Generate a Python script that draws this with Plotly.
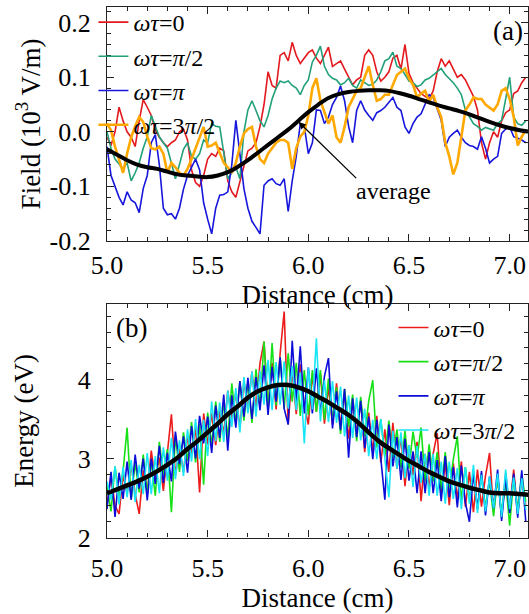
import numpy as np
import plotly.graph_objects as go

# ---------------- data ----------------
STEP = 0.02          # sampling step of the field / energy profiles (cm)
X0 = 5.0             # first sample position (cm)

# (a) electric field, 10^3 V/m, for four phases
field_wt0 = [-0.01, -0.025, 0.00, 0.045, 0.02, 0.00, -0.01, -0.027, 0.02, 0.059,
             0.045, 0.03, 0.003, -0.01, -0.02, -0.027, -0.02, -0.015, 0.00, 0.005,
             -0.015, -0.07, -0.093, -0.10, -0.08, -0.05, -0.04, -0.045, -0.03, -0.035,
             -0.09, -0.11, -0.12, -0.09, -0.06, -0.035, -0.03, -0.02, 0.01, 0.05,
             0.11, 0.085, 0.08, 0.14, 0.145, 0.13, 0.164, 0.14, 0.125, 0.134,
             0.145, 0.15, 0.135, 0.125, 0.14, 0.155, 0.12, 0.125, 0.13, 0.115,
             0.10, 0.086, 0.095, 0.10, 0.14, 0.15, 0.14, 0.11, 0.093, 0.10,
             0.11, 0.135, 0.14, 0.115, 0.16, 0.107, 0.09, 0.08, 0.07, 0.065,
             0.06, 0.075, 0.11, 0.134, 0.12, 0.13, 0.115, 0.10, 0.105, 0.095,
             0.08, 0.065, 0.04, -0.02, -0.05, -0.02, 0.00, -0.01, 0.02, 0.035,
             0.04, 0.07, 0.075, 0.09, 0.10]
field_wt_half_pi = [0.00, -0.03, -0.05, -0.06, -0.068, -0.057, -0.09, -0.075, -0.057, -0.03,
                    -0.009, 0.03, 0.01, -0.009, -0.02, -0.03, -0.057, -0.086, -0.06, -0.032,
                    -0.02, -0.045, -0.05, -0.04, -0.015, -0.02, 0.015, 0.01, 0.009, -0.04,
                    -0.086, -0.075, -0.065, -0.086, 0.00, 0.04, 0.057, 0.039, 0.02, 0.009,
                    0.03, 0.06, 0.08, 0.093, 0.09, 0.093, 0.085, 0.08, 0.068, 0.085,
                    0.095, 0.128, 0.14, 0.157, 0.12, 0.105, 0.098, 0.095, 0.086, 0.09,
                    0.098, 0.085, 0.08, 0.095, 0.09, 0.085, 0.087, 0.095, 0.11, 0.13,
                    0.134, 0.146, 0.12, 0.116, 0.105, 0.093, 0.09, 0.083, 0.086, 0.095,
                    0.098, 0.104, 0.11, 0.116, 0.105, 0.098, 0.09, 0.08, 0.068, 0.04,
                    0.027, 0.015, 0.01, 0.003, 0.008, 0.005, 0.003, 0.015, 0.021, 0.06,
                    0.10, 0.027, 0.015, 0.012, 0.02]
field_wt_pi = [-0.027, -0.08, -0.10, -0.12, -0.134, -0.11, -0.125, -0.13, -0.148, -0.104,
               -0.08, -0.02, -0.005, -0.06, -0.14, -0.152, -0.15, -0.16, -0.14, -0.105,
               -0.08, -0.065, -0.05, -0.07, -0.13, -0.16, -0.187, -0.14, -0.116, -0.115,
               -0.11, -0.06, 0.021, -0.04, -0.104, -0.14, -0.164, -0.175, -0.187, -0.098,
               -0.09, -0.086, -0.095, -0.098, -0.086, -0.146, -0.09, -0.045, 0.015, 0.01,
               -0.04, -0.02, 0.04, 0.039, 0.015, 0.027, 0.05, 0.063, 0.084, 0.057,
               0.01, -0.02, 0.039, 0.057, 0.04, 0.03, 0.021, 0.035, 0.039, 0.045,
               0.055, 0.063, 0.045, 0.039, 0.009, -0.003, 0.015, 0.027, 0.033, 0.05,
               0.068, 0.063, 0.04, 0.021, -0.027, -0.01, -0.003, 0.003, -0.01, -0.02,
               -0.025, -0.027, -0.032, -0.009, -0.03, -0.057, -0.05, -0.045, -0.003, 0.005,
               0.009, -0.009, -0.012, -0.015, -0.02]
field_wt_3half_pi = [0.015, 0.003, -0.027, -0.05, -0.075, -0.04, -0.01, 0.01, 0.027, 0.018,
                     -0.009, -0.03, -0.032, -0.027, -0.04, -0.075, -0.057, -0.065, -0.075, -0.08,
                     -0.068, -0.05, -0.03, -0.009, 0.009, -0.027, -0.025, -0.02, -0.04, -0.057,
                     -0.065, -0.075, -0.057, -0.027, -0.003, 0.005, 0.009, -0.027, -0.05, -0.057,
                     -0.04, -0.03, -0.02, -0.015, -0.015, -0.02, -0.068, -0.03, -0.009, 0.00,
                     0.03, 0.08, 0.098, 0.057, 0.035, 0.015, 0.03, -0.01, -0.02, 0.009,
                     0.045, 0.06, 0.075, 0.08, 0.10, 0.12, 0.086, 0.057, 0.06, 0.068,
                     0.068, 0.085, 0.104, 0.11, 0.116, 0.098, 0.086, 0.063, 0.07, 0.075,
                     0.055, 0.068, 0.045, 0.027, -0.02, -0.045, -0.078, -0.057, -0.009, 0.039,
                     0.05, 0.063, 0.06, 0.06, 0.05, 0.045, 0.039, 0.05, 0.075, 0.08,
                     0.06, 0.027, -0.025, -0.009, 0.003]

# phase-averaged field, sampled every 0.05 cm from 5.00 to 7.10
field_average = [-0.032, -0.042, -0.052, -0.060, -0.065, -0.068, -0.073, -0.078, -0.080, -0.082,
                 -0.083, -0.080, -0.074, -0.064, -0.052, -0.038, -0.024, -0.010, 0.004, 0.020,
                 0.036, 0.050, 0.062, 0.069, 0.073, 0.075, 0.076, 0.076, 0.075, 0.071,
                 0.066, 0.060, 0.054, 0.048, 0.043, 0.038, 0.032, 0.025, 0.018, 0.012,
                 0.007, 0.003, 0.000]

# (b) electron energy, eV, for four phases
energy_wt0 = [2.41, 2.78, 2.40, 2.30, 2.79, 2.56, 2.93, 2.55, 2.30, 2.85,
              2.57, 3.10, 2.73, 3.01, 2.59, 3.12, 3.56, 2.79, 3.13, 2.83,
              3.27, 3.06, 3.40, 2.57, 3.57, 3.18, 3.57, 3.17, 3.61, 3.31,
              3.86, 3.50, 3.84, 3.38, 3.98, 3.62, 4.10, 3.63, 4.21, 4.48,
              3.65, 4.21, 3.62, 4.33, 4.86, 3.43, 4.12, 3.56, 4.19, 3.67,
              3.43, 4.07, 3.59, 4.07, 3.44, 3.91, 3.43, 3.95, 3.41, 3.83,
              3.25, 3.71, 3.32, 3.73, 3.08, 3.58, 3.09, 3.54, 2.95, 3.37,
              2.83, 3.45, 2.87, 3.28, 2.65, 3.17, 2.79, 3.21, 2.46, 3.06,
              2.63, 3.06, 3.32, 2.56, 2.93, 2.41, 2.94, 2.48, 2.96, 2.39,
              2.83, 2.32, 2.86, 2.39, 2.78, 3.07, 2.32, 2.76, 2.26, 2.81,
              2.36, 2.86, 2.30, 2.75, 2.40]
energy_wt_half_pi = [2.66, 2.33, 2.90, 2.52, 2.84, 3.39, 2.48, 2.95, 2.57, 3.05,
                     2.57, 2.95, 2.53, 3.21, 2.79, 3.12, 2.32, 3.29, 2.83, 3.33,
                     2.97, 3.46, 2.95, 3.44, 2.67, 3.58, 3.17, 3.72, 3.21, 3.71,
                     3.26, 3.95, 3.44, 3.98, 3.48, 3.97, 3.45, 4.13, 3.66, 4.48,
                     3.60, 4.46, 3.67, 4.28, 3.63, 4.33, 3.72, 4.21, 3.54, 4.12,
                     3.55, 4.12, 3.59, 4.12, 3.49, 4.01, 3.48, 3.90, 3.31, 3.88,
                     3.40, 3.81, 3.22, 3.78, 3.28, 3.73, 3.99, 3.14, 3.50, 3.02,
                     3.48, 3.00, 3.37, 2.88, 3.35, 2.87, 3.34, 3.01, 3.39, 2.71,
                     3.18, 2.71, 3.08, 2.61, 3.08, 2.61, 2.99, 3.28, 2.46, 2.89,
                     2.48, 2.82, 2.36, 2.79, 2.38, 2.72, 2.27, 2.76, 2.31, 2.71,
                     2.15, 2.76, 2.35, 2.80, 2.45]
energy_wt_pi = [2.36, 2.83, 2.26, 2.82, 2.49, 2.96, 2.48, 3.05, 2.62, 3.00,
                2.47, 3.00, 2.68, 3.16, 2.69, 3.07, 2.71, 3.34, 2.93, 3.28,
                2.82, 3.41, 3.00, 3.54, 3.19, 3.53, 3.07, 3.67, 3.26, 3.81,
                3.10, 3.80, 3.39, 3.98, 3.53, 4.02, 3.50, 4.03, 3.61, 4.18,
                3.55, 4.16, 3.72, 4.28, 3.63, 3.43, 4.49, 3.71, 4.42, 3.57,
                4.15, 3.57, 4.14, 3.57, 4.04, 4.27, 3.38, 3.85, 3.36, 3.88,
                3.01, 3.76, 3.27, 3.73, 3.13, 3.53, 2.99, 3.49, 3.00, 2.48,
                3.43, 2.90, 3.27, 2.73, 3.25, 2.72, 3.09, 2.56, 3.09, 2.56,
                3.08, 2.56, 2.98, 2.46, 3.03, 2.51, 2.89, 2.38, 2.91, 2.44,
                2.20, 2.82, 2.36, 2.84, 2.28, 2.77, 2.37, 2.86, 2.21, 2.76,
                2.31, 2.81, 2.25, 2.85, 2.20]
energy_wt_3half_pi = [2.71, 2.48, 2.90, 2.42, 2.89, 2.51, 2.98, 2.45, 2.92, 2.55,
                      3.07, 2.55, 3.03, 2.56, 3.14, 2.72, 3.26, 2.74, 3.23, 2.78,
                      3.37, 2.96, 3.50, 2.99, 3.49, 3.03, 3.72, 3.22, 3.71, 3.21,
                      3.86, 3.40, 3.89, 3.33, 4.03, 3.57, 4.10, 3.53, 4.11, 3.68,
                      4.25, 3.61, 4.22, 3.68, 4.23, 3.63, 4.17, 3.61, 4.09, 3.19,
                      4.15, 3.62, 4.52, 3.47, 3.99, 3.46, 3.98, 3.45, 3.91, 3.28,
                      3.80, 3.26, 3.77, 3.23, 3.63, 3.03, 3.49, 2.99, 3.50, 2.97,
                      2.51, 3.35, 2.87, 3.33, 2.75, 3.17, 2.64, 3.16, 2.69, 3.06,
                      2.53, 3.06, 2.53, 2.96, 2.43, 2.96, 2.49, 2.88, 2.36, 2.89,
                      2.43, 2.92, 2.31, 2.79, 2.33, 2.77, 2.37, 2.81, 2.26, 2.86,
                      2.36, 2.76, 2.30, 2.75, 2.35]

# phase-averaged energy, sampled every 0.05 cm from 5.00 to 7.10
energy_average = [2.56, 2.61, 2.66, 2.71, 2.77, 2.84, 2.92, 3.01, 3.12, 3.22,
                  3.33, 3.44, 3.56, 3.66, 3.77, 3.85, 3.90, 3.93, 3.93, 3.90,
                  3.85, 3.78, 3.71, 3.63, 3.55, 3.45, 3.33, 3.22, 3.13, 3.05,
                  2.97, 2.90, 2.83, 2.77, 2.71, 2.67, 2.63, 2.60, 2.57, 2.56,
                  2.56, 2.55, 2.54]

legend_names = ["<i>ωτ</i>=0", "<i>ωτ</i>=<i>π</i>/2", "<i>ωτ</i>=<i>π</i>", "<i>ωτ</i>=3<i>π</i>/2"]

# ---------------- figure ----------------
W, H = 529, 614
FONT = "Liberation Serif, Times New Roman, serif"
TICK_SIZE = 26
TITLE_SIZE = 27
LEGEND_SIZE = 24


def px_x(p):
    return p / W


def px_y(p):
    return 1 - p / H


x_noisy = np.round(X0 + STEP * np.arange(len(field_wt0)), 3)
x_avg = np.round(np.linspace(5.0, 7.1, len(field_average)), 3)

colors_a = ["#e3191e", "#22a07a", "#1616dc", "#ffa800"]
widths_a = [1.6, 1.6, 1.6, 2.6]
colors_b = ["#ec1c1c", "#16e016", "#0c0cd8", "#18e6f6"]

fig = go.Figure()

for name, ys, c, w in zip(legend_names,
                          [field_wt0, field_wt_half_pi, field_wt_pi, field_wt_3half_pi],
                          colors_a, widths_a):
    fig.add_trace(go.Scatter(x=x_noisy, y=ys, mode="lines", name=name,
                             line=dict(color=c, width=w), xaxis="x", yaxis="y",
                             legend="legend"))
fig.add_trace(go.Scatter(x=x_avg, y=field_average, mode="lines", showlegend=False,
                         line=dict(color="black", width=4, shape="spline"),
                         xaxis="x", yaxis="y"))

for name, ys, c in zip(legend_names,
                       [energy_wt0, energy_wt_half_pi, energy_wt_pi, energy_wt_3half_pi],
                       colors_b):
    fig.add_trace(go.Scatter(x=x_noisy, y=ys, mode="lines", name=name,
                             line=dict(color=c, width=1.6), xaxis="x2", yaxis="y2",
                             legend="legend2"))
fig.add_trace(go.Scatter(x=x_avg, y=energy_average, mode="lines", showlegend=False,
                         line=dict(color="black", width=4.5, shape="spline"),
                         xaxis="x2", yaxis="y2"))

axis_common = dict(showline=True, linecolor="#222", linewidth=1.2, mirror="ticks",
                   ticks="inside", ticklen=7, tickwidth=1.2, tickcolor="#222",
                   showgrid=False, zeroline=False,
                   tickfont=dict(family=FONT, size=TICK_SIZE, color="black"),
                   title_font=dict(family=FONT, size=TITLE_SIZE, color="black"))

x_dom = [px_x(94), 1.0]
xtick_vals = [5.0, 5.5, 6.0, 6.5, 7.0]
xtick_text = ["5.0", "5.5", "6.0", "6.5", "7.0"]
x_minor = dict(ticks="inside", ticklen=4, tickcolor="#222", dtick=0.1, tick0=5.0)

fig.update_layout(
    width=W, height=H,
    margin=dict(l=0, r=0, t=0, b=0),
    paper_bgcolor="white", plot_bgcolor="white",
    font=dict(family=FONT, color="black"),
    xaxis=dict(**axis_common, domain=x_dom, anchor="y", range=[5.0, 7.091],
               tickvals=xtick_vals, ticktext=xtick_text, minor=x_minor,
               ticklabelstandoff=1,
               title=dict(text="Distance (cm)", standoff=0)),
    yaxis=dict(**axis_common, domain=[px_y(247), px_y(7)], anchor="x", range=[-0.2, 0.229],
               tickvals=[-0.2, -0.1, 0.0, 0.1, 0.2],
               ticktext=["-0.2", "-0.1", "0.0", "0.1", "0.2"],
               minor=dict(ticks="inside", ticklen=4, tickcolor="#222", dtick=0.02, tick0=0),
               ticklabelstandoff=10,
               title=dict(text="Field (10<sup>3</sup> V/m)", standoff=1)),
    xaxis2=dict(**axis_common, domain=x_dom, anchor="y2", range=[5.0, 7.091],
                tickvals=xtick_vals, ticktext=xtick_text, minor=x_minor,
                ticklabelstandoff=7,
                title=dict(text="Distance (cm)", standoff=0)),
    yaxis2=dict(**axis_common, domain=[px_y(551), px_y(312)], anchor="x2", range=[2.0, 4.95],
                tickvals=[2, 3, 4], ticktext=["2", "3", "4"],
                minor=dict(ticks="inside", ticklen=4, tickcolor="#222", dtick=0.2, tick0=2),
                ticklabelstandoff=10,
                title=dict(text="Energy (eV)", standoff=36)),
    legend=dict(x=px_x(80), y=px_y(0), xanchor="left", yanchor="top",
                bgcolor="rgba(0,0,0,0)", font=dict(family=FONT, size=LEGEND_SIZE, color="black"),
                tracegroupgap=0),
    legend2=dict(x=px_x(390), y=px_y(313), xanchor="left", yanchor="top",
                 bgcolor="rgba(0,0,0,0)", font=dict(family=FONT, size=LEGEND_SIZE, color="black"),
                 tracegroupgap=0),
)

fig.add_annotation(text="(a)", x=px_x(508), y=px_y(32), xref="paper", yref="paper",
                   xanchor="center", yanchor="middle",
                   showarrow=False, font=dict(family=FONT, size=27, color="black"))
fig.add_annotation(text="(b)", x=px_x(119), y=px_y(336), xref="paper", yref="paper",
                   xanchor="center", yanchor="middle",
                   showarrow=False, font=dict(family=FONT, size=27, color="black"))
# pointer from the label to the averaged field curve
fig.add_annotation(text="", x=5.952, y=0.018, ax=6.245, ay=-0.0875,
                   xref="x", yref="y", axref="x", ayref="y",
                   showarrow=True, arrowhead=2, arrowsize=1.1, arrowwidth=1.3,
                   arrowcolor="black")
fig.add_annotation(text="average", x=6.423, y=-0.109, xref="x", yref="y",
                   xanchor="center", yanchor="middle",
                   showarrow=False, font=dict(family=FONT, size=24, color="black"))

fig.write_html("out.html")
